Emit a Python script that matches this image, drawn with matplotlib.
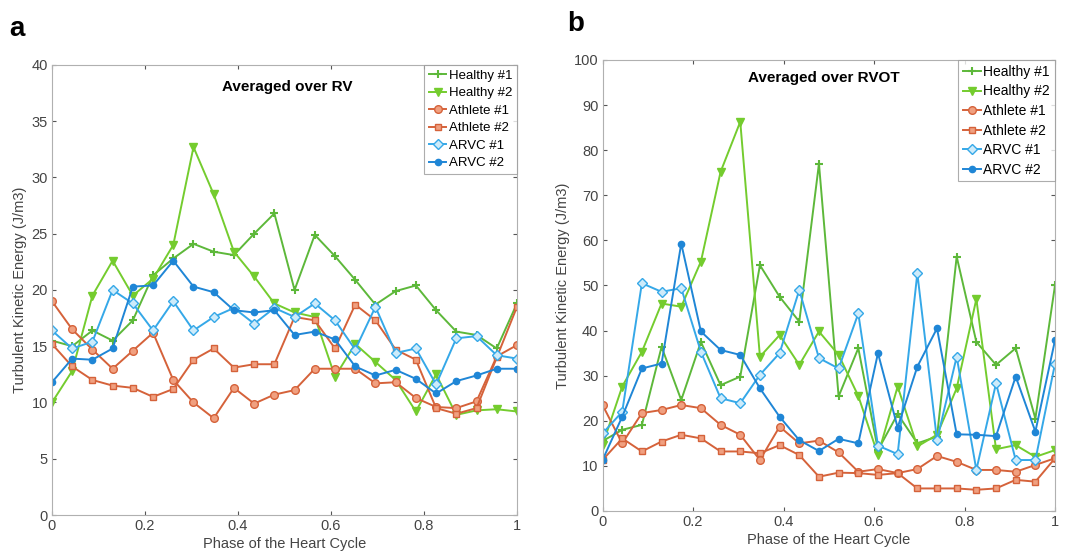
import numpy as np
import matplotlib.pyplot as plt

plt.rcParams['font.family'] = ['Liberation Sans', 'DejaVu Sans']

# 24 samples over one heart cycle
phase = np.arange(24) / 23

labels = ['Healthy #1', 'Healthy #2', 'Athlete #1', 'Athlete #2', 'ARVC #1', 'ARVC #2']

# panel a: averaged over RV
rv_healthy1 = [15.5, 15.0, 16.4, 15.5, 17.3, 21.3, 22.8, 24.1, 23.4, 23.1, 25.0, 26.8,
               20.0, 24.9, 23.0, 20.9, 18.7, 19.9, 20.4, 18.2, 16.3, 16.0, 14.8, 18.8]
rv_healthy2 = [10.0, 12.8, 19.5, 22.6, 19.5, 21.0, 24.0, 32.7, 28.5, 23.4, 21.2, 18.8,
               18.0, 17.6, 12.3, 15.2, 13.6, 12.0, 9.2, 12.5, 8.9, 9.3, 9.4, 9.2]
rv_athlete1 = [19.0, 16.5, 14.7, 13.0, 14.6, 16.2, 12.0, 10.0, 8.6, 11.3, 9.9, 10.7,
               11.1, 13.0, 13.0, 13.0, 11.7, 11.8, 10.4, 9.6, 9.5, 10.1, 14.1, 15.1]
rv_athlete2 = [15.2, 13.2, 12.0, 11.5, 11.3, 10.5, 11.2, 13.8, 14.8, 13.1, 13.4, 13.4,
               17.6, 17.3, 14.8, 18.7, 17.3, 14.7, 13.8, 9.5, 9.0, 9.5, 14.0, 18.5]
rv_arvc1 = [16.4, 14.8, 15.4, 20.0, 18.8, 16.4, 19.0, 16.4, 17.6, 18.4, 17.0, 18.4,
            17.6, 18.8, 17.3, 14.7, 18.5, 14.4, 14.8, 11.6, 15.7, 15.9, 14.2, 13.9]
rv_arvc2 = [11.8, 13.9, 13.8, 14.8, 20.3, 20.4, 22.6, 20.3, 19.8, 18.2, 18.0, 18.2,
            16.0, 16.3, 15.6, 13.2, 12.4, 12.9, 12.1, 10.8, 11.9, 12.4, 13.0, 13.0]

# panel b: averaged over RVOT
rvot_healthy1 = [15.5, 18.0, 19.1, 36.4, 24.6, 37.5, 27.9, 29.8, 54.5, 47.5, 42.0, 77.0,
                 25.4, 36.1, 13.5, 21.5, 15.0, 16.5, 56.4, 37.5, 32.4, 36.1, 20.5, 50.1]
rvot_healthy2 = [14.6, 27.6, 35.3, 46.0, 45.3, 55.3, 75.2, 86.3, 34.2, 39.0, 32.4, 39.8,
                 34.6, 25.5, 12.4, 27.6, 14.3, 16.9, 27.2, 47.0, 13.7, 14.6, 12.0, 13.5]
rvot_athlete1 = [23.5, 15.0, 21.7, 22.4, 23.5, 22.8, 19.1, 16.9, 11.3, 18.7, 15.0, 15.6,
                 13.0, 8.7, 9.3, 8.4, 9.3, 12.2, 10.9, 9.1, 9.1, 8.7, 10.2, 11.7]
rvot_athlete2 = [11.3, 16.1, 13.2, 15.4, 16.9, 16.1, 13.2, 13.2, 12.8, 14.6, 12.4, 7.6,
                 8.5, 8.4, 8.0, 8.4, 5.0, 5.0, 5.0, 4.7, 5.0, 6.9, 6.5, 11.7]
rvot_arvc1 = [17.2, 22.0, 50.5, 48.6, 49.4, 35.3, 25.0, 23.9, 30.2, 35.0, 49.0, 33.9,
              31.6, 43.8, 14.5, 12.6, 52.7, 15.7, 34.2, 9.1, 28.3, 11.3, 11.3, 32.7]
rvot_arvc2 = [11.3, 20.9, 31.6, 32.7, 59.3, 39.8, 35.7, 34.6, 27.2, 20.9, 15.7, 13.3,
              16.0, 15.0, 35.0, 18.5, 32.0, 40.5, 17.0, 16.9, 16.6, 29.8, 17.6, 37.9]

styles = [
    dict(color='#5DB83A', marker='+', ms=6, mew=1.5),
    dict(color='#74CC2E', marker='v', ms=6, mfc='#74CC2E'),
    dict(color='#D5623A', marker='o', ms=5.5, mfc='#F0A080'),
    dict(color='#D5623A', marker='s', ms=4.5, mfc='#F0A080'),
    dict(color='#35A8E8', marker='D', ms=5, mfc='#CDEBFA'),
    dict(color='#1F86D6', marker='o', ms=4.5, mfc='#1F86D6'),
]

fig = plt.figure(figsize=(10.67, 5.57), dpi=100)


def draw_panel(ax, series, ymax, ystep, title, title_x, title_y, legsize):
    for vals, lab, st in zip(series, labels, styles):
        ax.plot(phase, vals, lw=1.4, label=lab, **st)
    ax.set_xlim(0, 1)
    ax.set_ylim(0, ymax)
    ax.set_xticks([0, 0.2, 0.4, 0.6, 0.8, 1])
    ax.set_xticklabels(['0', '0.2', '0.4', '0.6', '0.8', '1'])
    ax.set_yticks(np.arange(0, ymax + 1, ystep))
    ax.tick_params(direction='in', length=3, labelsize=10.5, colors='#555555',
                   labelcolor='#444444', top=True, right=True, pad=3)
    for sp in ax.spines.values():
        sp.set_color('#b0b0b0')
    ax.set_xlabel('Phase of the Heart Cycle', fontsize=10.5, color='#444444', labelpad=3)
    ax.set_ylabel('Turbulent Kinetic Energy (J/m3)', fontsize=10.5, color='#444444', labelpad=3)
    ax.text(title_x, title_y, title, transform=ax.transAxes, fontsize=11,
            fontweight='bold', va='center', ha='center')
    leg = ax.legend(loc='upper right', fontsize=legsize, borderaxespad=0.0,
                    handlelength=1.3, handletextpad=0.2, labelspacing=0.4,
                    fancybox=False, borderpad=0.35)
    leg.get_frame().set_edgecolor('#999999')
    leg.get_frame().set_linewidth(0.8)


ax1 = fig.add_axes([0.0487, 0.0754, 0.4358, 0.808])
draw_panel(ax1, [rv_healthy1, rv_healthy2, rv_athlete1, rv_athlete2, rv_arvc1, rv_arvc2],
           40, 5, 'Averaged over RV', 0.505, 0.95, 9.5)

ax2 = fig.add_axes([0.5647, 0.0826, 0.4241, 0.8097])
draw_panel(ax2, [rvot_healthy1, rvot_healthy2, rvot_athlete1, rvot_athlete2, rvot_arvc1, rvot_arvc2],
           100, 10, 'Averaged over RVOT', 0.49, 0.96, 10)

fig.text(0.009, 0.935, 'a', fontsize=20, fontweight='bold')
fig.text(0.532, 0.945, 'b', fontsize=20, fontweight='bold')

fig.savefig('out.png', dpi=100)
